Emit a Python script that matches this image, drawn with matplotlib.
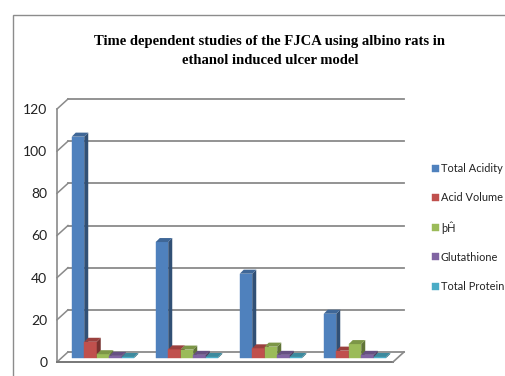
import matplotlib
matplotlib.use("Agg")
import matplotlib.pyplot as plt
from matplotlib.patches import Polygon, Rectangle
import numpy as np

# ---- data ----
groups = ["1", "2", "3", "4"]
series = ["Total Acidity", "Acid Volume", "þĤ", "Glutathione", "Total Protein"]
total_acidity = [105, 55, 40, 21]
acid_volume = [7.7, 4.1, 4.6, 3.5]
ph_values = [1.8, 4.0, 5.4, 6.6]
glutathione = [1.0, 1.5, 1.5, 1.5]
total_protein = [0.5, 0.5, 0.5, 0.5]
values = [total_acidity, acid_volume, ph_values, glutathione, total_protein]
yticks = [0, 20, 40, 60, 80, 100, 120]

colors = ["#4F81BD", "#C0504D", "#9BBB59", "#8064A2", "#4BACC6"]

def shade(c, f):
    r, g, b = matplotlib.colors.to_rgb(c)
    return (r * f, g * f, b * f)

W, H = 505, 376
fig = plt.figure(figsize=(W / 100, H / 100), dpi=100)

# outer frame
fig.patches.append(Rectangle((13 / W, -0.1), 1.2, (H - 15) / H + 0.1,
                             transform=fig.transFigure, fill=False,
                             edgecolor="#8c8c8c", lw=1.0))

ax_l, ax_r, ax_b, ax_t = 57, 393, 362, 109
ax = fig.add_axes([ax_l / W, (H - ax_b) / H, (ax_r - ax_l) / W, (ax_b - ax_t) / H])
ax.set_xlim(-0.5, 3.5)
ax.set_ylim(0, 120)
for s in ax.spines.values():
    s.set_visible(False)
ax.set_xticks([])
ax.set_yticks(yticks)
ax.tick_params(axis="y", length=0, pad=7)
for lbl in ax.get_yticklabels():
    lbl.set_fontfamily(["Lato", "DejaVu Sans"])
    lbl.set_fontsize(10)
    lbl.set_color("#222222")

# pixel -> data conversion
px_x = 4.0 / (ax_r - ax_l)
px_y = 120.0 / (ax_b - ax_t)

# wall depth
wdx, wdy = 11 * px_x, 10 * px_y
grid_c = "#8a8a8a"
for v in yticks:
    ax.plot([-0.5 + wdx, 3.5 + wdx], [v + wdy, v + wdy], color=grid_c, lw=1.3,
            clip_on=False, zorder=1)
    ax.plot([-0.5, -0.5 + wdx], [v, v + wdy], color=grid_c, lw=1.1,
            clip_on=False, zorder=1)
# left front vertical edge
ax.plot([-0.5, -0.5], [0, 120], color=grid_c, lw=1.2, clip_on=False, zorder=1)
# floor
ax.plot([-0.5, 3.5], [0, 0], color="#777777", lw=1.4, clip_on=False, zorder=1)
ax.plot([3.5, 3.5 + wdx], [0, wdy], color=grid_c, lw=1.2, clip_on=False, zorder=1)

# bars
w = 12.5 / 84.0
fx, fy = 4 * px_x, 4 * px_y
dx, dy = 4 * px_x, 4 * px_y
xg = np.arange(len(groups))
handles = []
for i, (name, vals, c) in enumerate(zip(series, values, colors)):
    xs = xg + (i - 2) * w + fx
    b = ax.bar(xs, vals, width=w, bottom=fy, color=c, label=name, zorder=3 + i,
               edgecolor=c, lw=0.3)
    handles.append(b)
    for x0, h in zip(xs, vals):
        x1 = x0 + w / 2
        xl = x0 - w / 2
        top = fy + h
        side = Polygon([(x1, fy), (x1, top), (x1 + dx, top + dy), (x1 + dx, fy + dy)],
                       closed=True, facecolor=shade(c, 0.62), edgecolor="none",
                       zorder=3 + i, clip_on=False)
        topf = Polygon([(xl, top), (x1, top), (x1 + dx, top + dy), (xl + dx, top + dy)],
                       closed=True, facecolor=shade(c, 0.8), edgecolor="none",
                       zorder=3 + i, clip_on=False)
        ax.add_patch(side)
        ax.add_patch(topf)

# title
fig.text(270 / W, 1 - 35 / H,
         "Time dependent studies of the FJCA using albino rats in\nethanol induced ulcer model",
         ha="center", va="top", fontsize=10.5, fontweight="bold",
         family=["Liberation Serif", "DejaVu Serif"], linespacing=1.55)

leg = fig.legend(handles=handles, labels=series, loc="upper left",
                 bbox_to_anchor=(432 / W, 1 - 163 / H), frameon=False,
                 prop={"family": ["Lato", "DejaVu Sans"], "size": 7.9},
                 handlelength=0.6, handleheight=0.6, handletextpad=0.2,
                 labelspacing=1.65, borderpad=0, borderaxespad=0)
for t in leg.get_texts():
    t.set_color("#222222")

fig.savefig("out.png", dpi=100)
